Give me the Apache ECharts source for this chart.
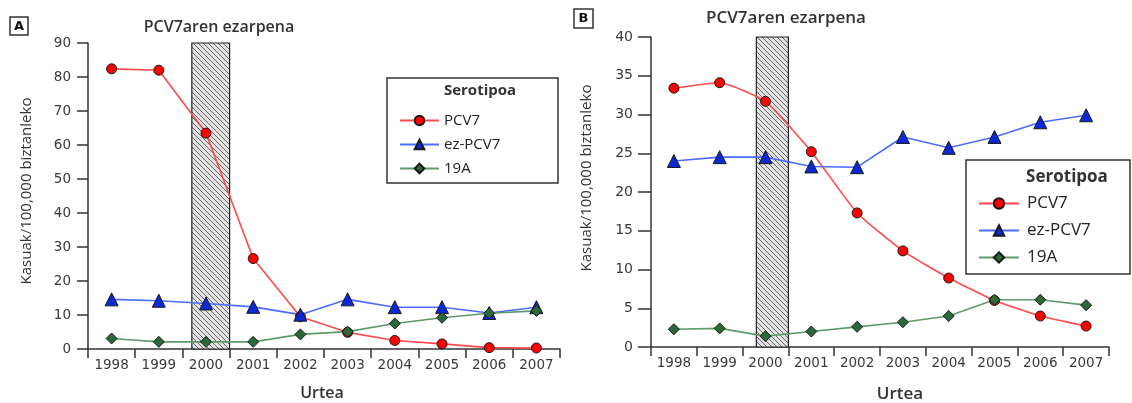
<!DOCTYPE html>
<html>
<head>
<meta charset="utf-8">
<script src="https://cdn.jsdelivr.net/npm/echarts@6/dist/echarts.min.js"></script>
<style>
html,body{margin:0;padding:0;background:#fff;}
#chart{width:1132px;height:403px;}
</style>
</head>
<body>
<div id="chart"></div>
<script>
// ---- data ----
const years = ['1998','1999','2000','2001','2002','2003','2004','2005','2006','2007'];
const seriesNames = ['PCV7','ez-PCV7','19A'];
const legendTitle = 'Serotipoa';
const panelTitle = 'PCV7aren ezarpena';
const yAxisName = 'Kasuak/100,000 biztanleko';
const xAxisName = 'Urtea';

// Panel A
const pcv7A   = [82.4, 82.0, 63.5, 26.6, 9.5, 4.9, 2.5, 1.5, 0.4, 0.3];
const nonPcvA = [14.6, 14.2, 13.4, 12.4, 10.1, 14.6, 12.3, 12.3, 10.6, 12.3];
const s19aA   = [3.1, 2.1, 2.1, 2.1, 4.3, 5.1, 7.5, 9.2, 10.5, 11.2];
const yTicksA = {min: 0, max: 90, interval: 10};
const introA  = [1999.7, 2000.5];   // vaccine introduction band (year units)

// Panel B
const pcv7B   = [33.4, 34.1, 31.7, 25.2, 17.3, 12.4, 8.9, 6.0, 4.0, 2.7];
const nonPcvB = [24.0, 24.5, 24.5, 23.3, 23.2, 27.1, 25.7, 27.1, 29.0, 29.9];
const s19aB   = [2.3, 2.4, 1.4, 2.0, 2.6, 3.2, 4.0, 6.1, 6.1, 5.4];
const yTicksB = {min: 0, max: 40, interval: 5};
const introB  = [1999.8, 2000.5];

// ---- styles ----
const colors = {
  PCV7:     {fill: '#ff0000', line: '#ff4a4a', symbol: 'circle'},
  'ez-PCV7':{fill: '#0a28d8', line: '#4a6cff', symbol: 'triangle'},
  '19A':    {fill: '#2a6a38', line: '#5f9a6c', symbol: 'diamond'}
};
const FONT = '"Open Sans", "Noto Sans", sans-serif';
const TICKFONT = '"DejaVu Sans", Verdana, sans-serif';
const AXC = '#333';

// hatch pattern
function makeHatch(){
  const c = document.createElement('canvas');
  c.width = 5; c.height = 5;
  const g = c.getContext('2d');
  g.fillStyle = '#e2e2e2'; g.fillRect(0,0,5,5);
  g.strokeStyle = '#666'; g.lineWidth = 1.0;
  g.beginPath();
  g.moveTo(-1,-1); g.lineTo(6,6);
  g.moveTo(-1,4); g.lineTo(1,6);
  g.moveTo(4,-1); g.lineTo(6,1);
  g.stroke();
  return c;
}
const hatch = makeHatch();

const chart = echarts.init(document.getElementById('chart'), null, {renderer: 'canvas'});

const grids = [
  {left: 88, top: 43, width: 472, height: 306},
  {left: 651, top: 37, width: 458, height: 310}
];

function catAxis(gi, fs){
  return {
    type: 'category', gridIndex: gi, data: years, boundaryGap: true,
    axisLine: {lineStyle: {color: AXC, width: 1.5}},
    axisTick: {show: true, length: 9, interval: 0, lineStyle: {color: AXC, width: 1.5}},
    axisLabel: {color: '#3a3a3a', fontFamily: TICKFONT, fontSize: fs, margin: 9, interval: 0, hideOverlap: false}
  };
}
function valXAxis(gi){
  return {
    type: 'value', gridIndex: gi, min: Number(years[0]) - 0.5, max: Number(years[years.length-1]) + 0.5,
    show: false, splitLine: {show: false}
  };
}
function valYAxis(gi, t, fs, tickLen, margin){
  return {
    type: 'value', gridIndex: gi, min: t.min, max: t.max, interval: t.interval,
    axisLine: {show: true, lineStyle: {color: AXC, width: 1.5}},
    axisTick: {show: true, length: tickLen, lineStyle: {color: AXC, width: 1.5}},
    axisLabel: {color: '#3a3a3a', fontFamily: TICKFONT, fontSize: fs, margin: margin},
    splitLine: {show: false}
  };
}

function lineSeries(name, data, xi, yi, sizes, smooth){
  const c = colors[name];
  const size = name === 'PCV7' ? sizes[0] : (name === 'ez-PCV7' ? sizes[1] : sizes[2]);
  return {
    name: name, type: 'line', xAxisIndex: xi, yAxisIndex: yi, data: data,
    symbol: c.symbol, symbolSize: size, smooth: smooth || false,
    lineStyle: {color: c.line, width: 1.6},
    itemStyle: {color: c.fill, borderColor: '#1a1a1a', borderWidth: 1},
    z: 5, animation: false
  };
}

function bandSeries(xi, yi, band, t){
  return {
    type: 'line', xAxisIndex: xi, yAxisIndex: yi, data: [], z: 1, animation: false,
    silent: true,
    markArea: {
      silent: true,
      itemStyle: {color: {image: hatch, repeat: 'repeat'}, borderColor: '#222', borderWidth: 1.2},
      data: [[{xAxis: band[0], yAxis: t.min}, {xAxis: band[1], yAxis: t.max}]]
    }
  };
}

function txt(x, y, text, size, weight, extra){
  return Object.assign({
    type: 'text', x: x, y: y, z: 20,
    style: {text: text, fill: '#333', font: weight + ' ' + size + 'px ' + FONT, textAlign: 'center', textVerticalAlign: 'middle'}
  }, extra || {});
}
function box(x, y, w, h, lw){
  return {type: 'rect', shape: {x: x, y: y, width: w, height: h}, z: 0,
          style: {fill: '#fff', stroke: '#333', lineWidth: lw}};
}

const option = {
  backgroundColor: '#fff',
  animation: false,
  grid: grids,
  xAxis: [catAxis(0, 13.5), catAxis(1, 13.5), valXAxis(0), valXAxis(1)],
  yAxis: [valYAxis(0, yTicksA, 13.5, 11, 17), valYAxis(1, yTicksB, 14, 13, 18)],
  legend: [
    {data: seriesNames, orient: 'vertical', left: 394, top: 108, itemWidth: 39, itemHeight: 12, itemGap: 9,
     textStyle: {fontFamily: FONT, fontSize: 15, color: '#222', padding: [0,0,0,0]}, selectedMode: false},
    {data: seriesNames, orient: 'vertical', left: 973, top: 190, itemWidth: 40, itemHeight: 13, itemGap: 10,
     textStyle: {fontFamily: FONT, fontSize: 17, color: '#222', padding: [0,0,0,3]}, selectedMode: false}
  ],
  series: [
    bandSeries(2, 0, introA, yTicksA),
    lineSeries('PCV7', pcv7A, 0, 0, [10, 13, 11]),
    lineSeries('ez-PCV7', nonPcvA, 0, 0, [10, 13, 11]),
    lineSeries('19A', s19aA, 0, 0, [10, 13, 11]),
    bandSeries(3, 1, introB, yTicksB),
    lineSeries('PCV7', pcv7B, 1, 1, [10, 13, 11], 0.15),
    lineSeries('ez-PCV7', nonPcvB, 1, 1, [10, 13, 11]),
    lineSeries('19A', s19aB, 1, 1, [10, 13, 11])
  ],
  graphic: [
    box(387, 78, 171, 105, 1.5),
    box(966, 160, 164, 114, 1.5),
    txt(480, 91, legendTitle, 15, 'bold'),
    txt(1067, 177, legendTitle, 17, 'bold'),
    box(10, 17, 18, 18, 1.5),
    txt(19, 26.5, 'A', 13, 'bold', {style: {text: 'A', fill: '#111', font: 'bold 13px "DejaVu Sans", sans-serif', textAlign: 'center', textVerticalAlign: 'middle'}}),
    box(574, 9, 19, 19, 1.5),
    txt(583.5, 18.5, 'B', 13, 'bold', {style: {text: 'B', fill: '#111', font: 'bold 13px "DejaVu Sans", sans-serif', textAlign: 'center', textVerticalAlign: 'middle'}}),
    txt(219, 27, panelTitle, 16, '600'),
    txt(786, 18, panelTitle, 17, '600'),
    txt(322, 393, xAxisName, 16, '600'),
    txt(900, 394, xAxisName, 17, '600'),
    txt(27, 191, yAxisName, 15, '500', {rotation: Math.PI/2}),
    txt(587, 178, yAxisName, 15, '500', {rotation: Math.PI/2})
  ]
};
chart.setOption(option);
</script>
</body>
</html>
